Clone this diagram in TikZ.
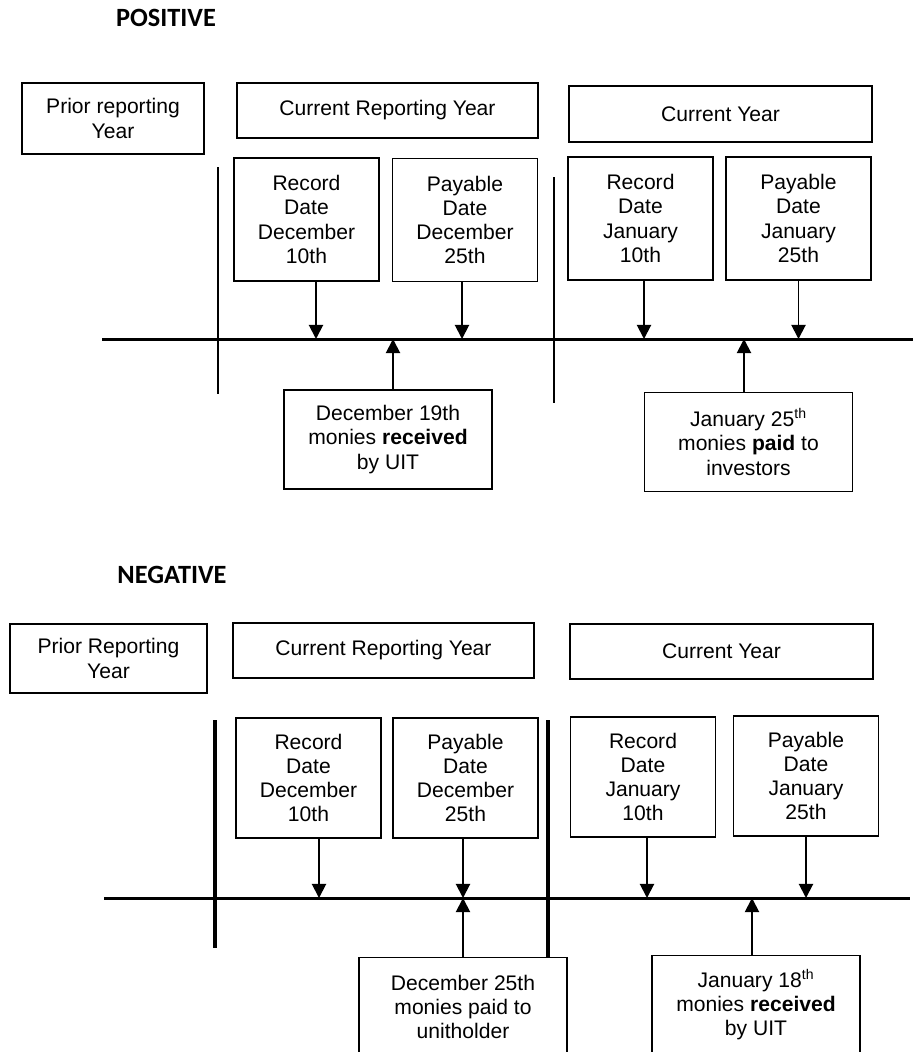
\documentclass[tikz,border=0pt]{standalone}
\usepackage{fontspec}
\setmainfont{Liberation Sans}
\newfontfamily\headfont{Carlito}
\usetikzlibrary{arrows.meta}

\begin{document}
\begin{tikzpicture}[x=0.02cm,y=-0.02cm,
	box/.style={draw, line width=0.8pt, align=center, inner sep=0pt, font=\fontsize{12}{13.8}\selectfont},
	datebox/.style={box, minimum width=2.9cm},
	notebox/.style={box, minimum width=4.16cm, minimum height=1.98cm},
	title/.style={font=\headfont\bfseries\fontsize{15}{18}\selectfont},
	axis/.style={line width=1.7pt},
	marker/.style={line width=1.1pt, -{Triangle[width=8pt,length=8pt]}}]
			\useasboundingbox (0,0) rectangle (917,1052);
			% positive
			\node[title] (pos) at (166,18){POSITIVE};
			\node[box, minimum width=3.64cm, minimum height=1.42cm] (pprior) at (113,118.5){Prior reporting\\Year};
			\node[box, minimum width=6.02cm, minimum height=1.1cm] (pcry) at (387.5,110.5){Current Reporting Year};
			\node[box, minimum width=6.06cm, minimum height=1.12cm] (pcy) at (720.5,114){Current Year};
			\node[datebox, minimum height=2.46cm] (prd) at (306.5,219.5){Record\\Date\\December\\10th};
			\node[datebox, minimum height=2.46cm] (ppd) at (465,220){Payable\\Date\\December\\25th};
			\node[datebox, minimum height=2.46cm] (prj) at (640.5,218.5){Record\\Date\\January\\10th};
			\node[datebox, minimum height=2.46cm] (ppj) at (798.5,218.5){Payable\\Date\\January\\25th};
			\node[notebox] (pdec) at (388,439.5){December 19th\\monies \textbf{received}\\by UIT};
			\node[notebox] (pjan) at (748.5,442){January 25\textsuperscript{th}\\monies \textbf{paid} to\\investors};
			\coordinate (pl) at (102,339);
			\coordinate (pr) at (913,339);
			\coordinate (pa1) at (218,167);
			\coordinate (pb1) at (218,394);
			\coordinate (pa2) at (554,177);
			\coordinate (pb2) at (554,403);
			\draw[axis] (pl) -- (pr);
			\draw[axis] (pa1) -- (pb1);
			\draw[line width=1.3pt] (pa2) -- (pb2);
			\draw[marker] ([xshift=0.19cm]prd.south) -- ([xshift=0.19cm]prd.south |- pl);
			\draw[marker] ([xshift=-0.06cm]ppd.south) -- ([xshift=-0.06cm]ppd.south |- pl);
			\draw[marker] ([xshift=0.07cm]prj.south) -- ([xshift=0.07cm]prj.south |- pl);
			\draw[marker] (ppj.south) -- (ppj.south |- pl);
			\draw[marker] ([xshift=0.1cm]pdec.north) -- ([xshift=0.1cm]pdec.north |- pl);
			\draw[marker] ([xshift=-0.09cm]pjan.north) -- ([xshift=-0.09cm]pjan.north |- pl);
			% negative
			\node[title] (neg) at (172,575){NEGATIVE};
			\node[box, minimum width=3.94cm, minimum height=1.38cm] (nprior) at (108.5,658.5){Prior Reporting\\Year};
			\node[box, minimum width=6.02cm, minimum height=1.1cm] (ncry) at (383.5,650.5){Current Reporting Year};
			\node[box, minimum width=6.06cm, minimum height=1.1cm] (ncy) at (721.5,651.5){Current Year};
			\node[datebox, minimum height=2.4cm] (nrd) at (308.5,778){Record\\Date\\December\\10th};
			\node[datebox, minimum height=2.4cm] (npd) at (465.5,778){Payable\\Date\\December\\25th};
			\node[datebox, minimum height=2.4cm] (nrj) at (643,777){Record\\Date\\January\\10th};
			\node[datebox, minimum height=2.4cm] (npj) at (806,776){Payable\\Date\\January\\25th};
			\node[notebox] (ndec) at (463,1007){December 25th\\monies paid to\\unitholder};
			\node[notebox] (njan) at (756,1005){January 18\textsuperscript{th}\\monies \textbf{received}\\by UIT};
			\coordinate (nl) at (104,898);
			\coordinate (nr) at (910,898);
			\coordinate (na1) at (215,720);
			\coordinate (nb1) at (215,948);
			\coordinate (na2) at (548,720);
			\coordinate (nb2) at (548,957);
			\draw[axis] (nl) -- (nr);
			\draw[line width=2.2pt] (na1) -- (nb1);
			\draw[line width=2.2pt] (na2) -- (nb2);
			\draw[marker] ([xshift=0.21cm]nrd.south) -- ([xshift=0.21cm]nrd.south |- nl);
			\draw[marker] ([xshift=-0.05cm]npd.south) -- ([xshift=-0.05cm]npd.south |- nl);
			\draw[marker] ([xshift=0.08cm]nrj.south) -- ([xshift=0.08cm]nrj.south |- nl);
			\draw[marker] (npj.south) -- (npj.south |- nl);
			\draw[marker] (ndec.north) -- (ndec.north |- nl);
			\draw[marker] ([xshift=-0.08cm]njan.north) -- ([xshift=-0.08cm]njan.north |- nl);
		\end{tikzpicture}
\end{document}
